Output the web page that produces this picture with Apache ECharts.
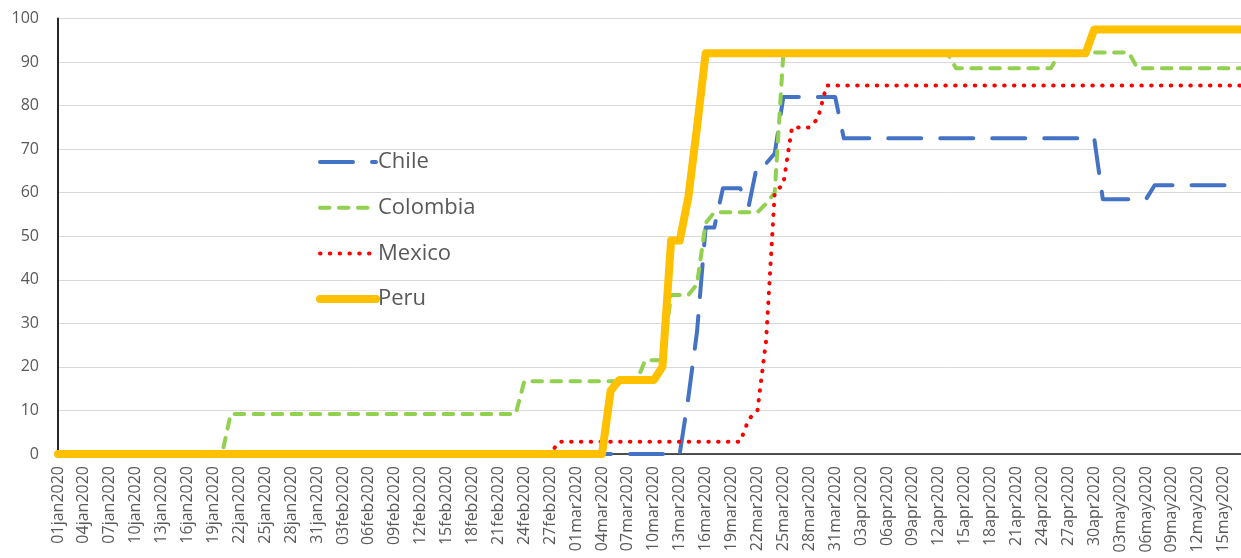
<!DOCTYPE html>
<html>
<head>
<meta charset="utf-8">
<script src="https://cdn.jsdelivr.net/npm/echarts@6/dist/echarts.min.js"></script>
<style>
html,body{margin:0;padding:0;background:#fff;}
#chart{width:1241px;height:558px;}
</style>
</head>
<body>
<div id="chart"></div>
<script>
// Category labels: daily dates 01jan2020 .. 17may2020
const monthNames = ['jan','feb','mar','apr','may'];
const monthDays = [31, 29, 31, 30, 17];
const dates = [];
monthNames.forEach(function (m, k) {
  for (let d = 1; d <= monthDays[k]; d++) {
    dates.push((d < 10 ? '0' + d : '' + d) + m + '2020');
  }
});

const yTicks = [0, 10, 20, 30, 40, 50, 60, 70, 80, 90, 100];

const chile = [
  0,0,0,0,0,0,0,0,0,0, 0,0,0,0,0,0,0,0,0,0,
  0,0,0,0,0,0,0,0,0,0, 0,0,0,0,0,0,0,0,0,0,
  0,0,0,0,0,0,0,0,0,0, 0,0,0,0,0,0,0,0,0,0,
  0,0,0,0,0,0,0,0,0,0, 0,0,0,
  13,28,52,52,61,61,61,57,66.7,66.7,69,82,
  82,82,82,82,82,82,
  72.5,72.5,72.5,72.5,72.5,72.5,72.5,72.5,72.5,72.5,
  72.5,72.5,72.5,72.5,72.5,72.5,72.5,72.5,72.5,72.5,
  72.5,72.5,72.5,72.5,72.5,72.5,72.5,72.5,72.5,72.5,
  58.5,58.5,58.5,58.5,58.5,58.5,
  61.7,61.7,61.7,61.7,61.7,61.7,61.7,61.7,61.7,61.7,61.7
];

const colombia = [
  0,0,0,0,0,0,0,0,0,0, 0,0,0,0,0,0,0,0,0,0,
  9.2,9.2,9.2,9.2,9.2,9.2,9.2,9.2,9.2,9.2,
  9.2,9.2,9.2,9.2,9.2,9.2,9.2,9.2,9.2,9.2,
  9.2,9.2,9.2,9.2,9.2,9.2,9.2,9.2,9.2,9.2,
  9.2,9.2,9.2,9.2,
  16.7,16.7,16.7,16.7,16.7,16.7,16.7,16.7,16.7,16.7,16.7,16.7,16.7,16.7,
  21.5,21.5,21.5,
  36.5,36.5,36.5,
  39,53,
  55.5,55.5,55.5,55.5,55.5,55.5,
  57.5,60,
  92,92,92,92,92,92,92,92,92,92, 92,92,92,92,92,92,92,92,92,92,
  88.6,88.6,88.6,88.6,88.6,88.6,88.6,88.6,88.6,88.6,88.6,88.6,
  92.2,92.2,92.2,92.2,92.2,92.2,92.2,92.2,92.2,
  88.6,88.6,88.6,88.6,88.6,88.6,88.6,88.6,88.6,88.6,88.6,88.6,88.6
];

const mexico = [
  0,0,0,0,0,0,0,0,0,0, 0,0,0,0,0,0,0,0,0,0,
  0,0,0,0,0,0,0,0,0,0, 0,0,0,0,0,0,0,0,0,0,
  0,0,0,0,0,0,0,0,0,0, 0,0,0,0,0,0,0,0,
  2.8,2.8,2.8,2.8,2.8,2.8,2.8,2.8,2.8,2.8,2.8,
  2.8,2.8,2.8,2.8,2.8,2.8,2.8,2.8,2.8,2.8,2.8,
  8,10,26,60,62,75,75,75,77,
  84.6,84.6,84.6,84.6,84.6,84.6,84.6,84.6,84.6,84.6,
  84.6,84.6,84.6,84.6,84.6,84.6,84.6,84.6,84.6,84.6,
  84.6,84.6,84.6,84.6,84.6,84.6,84.6,84.6,84.6,84.6,
  84.6,84.6,84.6,84.6,84.6,84.6,84.6,84.6,84.6,84.6,
  84.6,84.6,84.6,84.6,84.6,84.6,84.6,84.6,84.6
];

const peru = [
  0,0,0,0,0,0,0,0,0,0, 0,0,0,0,0,0,0,0,0,0,
  0,0,0,0,0,0,0,0,0,0, 0,0,0,0,0,0,0,0,0,0,
  0,0,0,0,0,0,0,0,0,0, 0,0,0,0,0,0,0,0,0,0,
  0,0,0,0,
  14.5,17,17,17,17,17,20,49,49,59,75,
  92,92,92,92,92,92,92,92,92,92,
  92,92,92,92,92,92,92,92,92,92,
  92,92,92,92,92,92,92,92,92,92,
  92,92,92,92,92,92,92,92,92,92,
  92,92,92,92,92,
  97.5,97.5,97.5,97.5,97.5,97.5,97.5,97.5,97.5,
  97.5,97.5,97.5,97.5,97.5,97.5,97.5,97.5,97.5
];

const FONT = 'Open Sans';
const TXT = '#595959';

const chart = echarts.init(document.getElementById('chart'), null, {renderer: 'canvas'});

function lineSeries(name, data, color, width, dash) {
  return {
    name: name,
    type: 'line',
    data: data,
    symbol: 'none',
    showSymbol: false,
    animation: false,
    lineStyle: {color: color, width: width, type: dash, cap: 'round', join: 'round'},
    itemStyle: {color: color},
    emphasis: {disabled: true}
  };
}

chart.setOption({
  animation: false,
  backgroundColor: '#ffffff',
  grid: {left: 58, top: 18.5, width: 1184, bottom: 104, containLabel: false},
  legend: {
    orient: 'vertical',
    left: 316,
    top: 151,
    padding: 0,
    itemWidth: 56,
    itemHeight: 14,
    itemGap: 23.7,
    textStyle: {fontFamily: FONT, fontSize: 22, color: TXT, padding: [0, 0, 0, -3]},
    itemStyle: {opacity: 0},
    data: [
      {name: 'Chile', lineStyle: {width: 4}},
      {name: 'Colombia', lineStyle: {width: 4}},
      {name: 'Mexico', lineStyle: {width: 4}},
      {name: 'Peru', lineStyle: {width: 8}}
    ]
  },
  xAxis: {
    type: 'category',
    data: dates,
    boundaryGap: false,
    axisLine: {show: true, lineStyle: {color: '#1a1a1a', width: 1.5}},
    axisTick: {show: false},
    axisLabel: {
      interval: 2,
      rotate: 90,
      margin: 12,
      fontFamily: FONT,
      fontSize: 16,
      color: TXT
    },
    splitLine: {show: false}
  },
  yAxis: {
    type: 'value',
    min: yTicks[0],
    max: yTicks[yTicks.length - 1],
    interval: 10,
    axisLine: {show: true, lineStyle: {color: '#262626', width: 2}},
    axisTick: {show: false},
    axisLabel: {margin: 19, fontFamily: FONT, fontSize: 16, color: TXT},
    splitLine: {show: true, lineStyle: {color: '#d9d9d9', width: 1}}
  },
  series: [
    lineSeries('Chile', chile, '#4472C4', 4, [33, 19]),
    lineSeries('Colombia', colombia, '#92D050', 4, [9.5, 9.5]),
    lineSeries('Mexico', mexico, '#FF0000', 4, [0.5, 9.3]),
    lineSeries('Peru', peru, '#FFC000', 8, 'solid')
  ]
});
</script>
</body>
</html>
